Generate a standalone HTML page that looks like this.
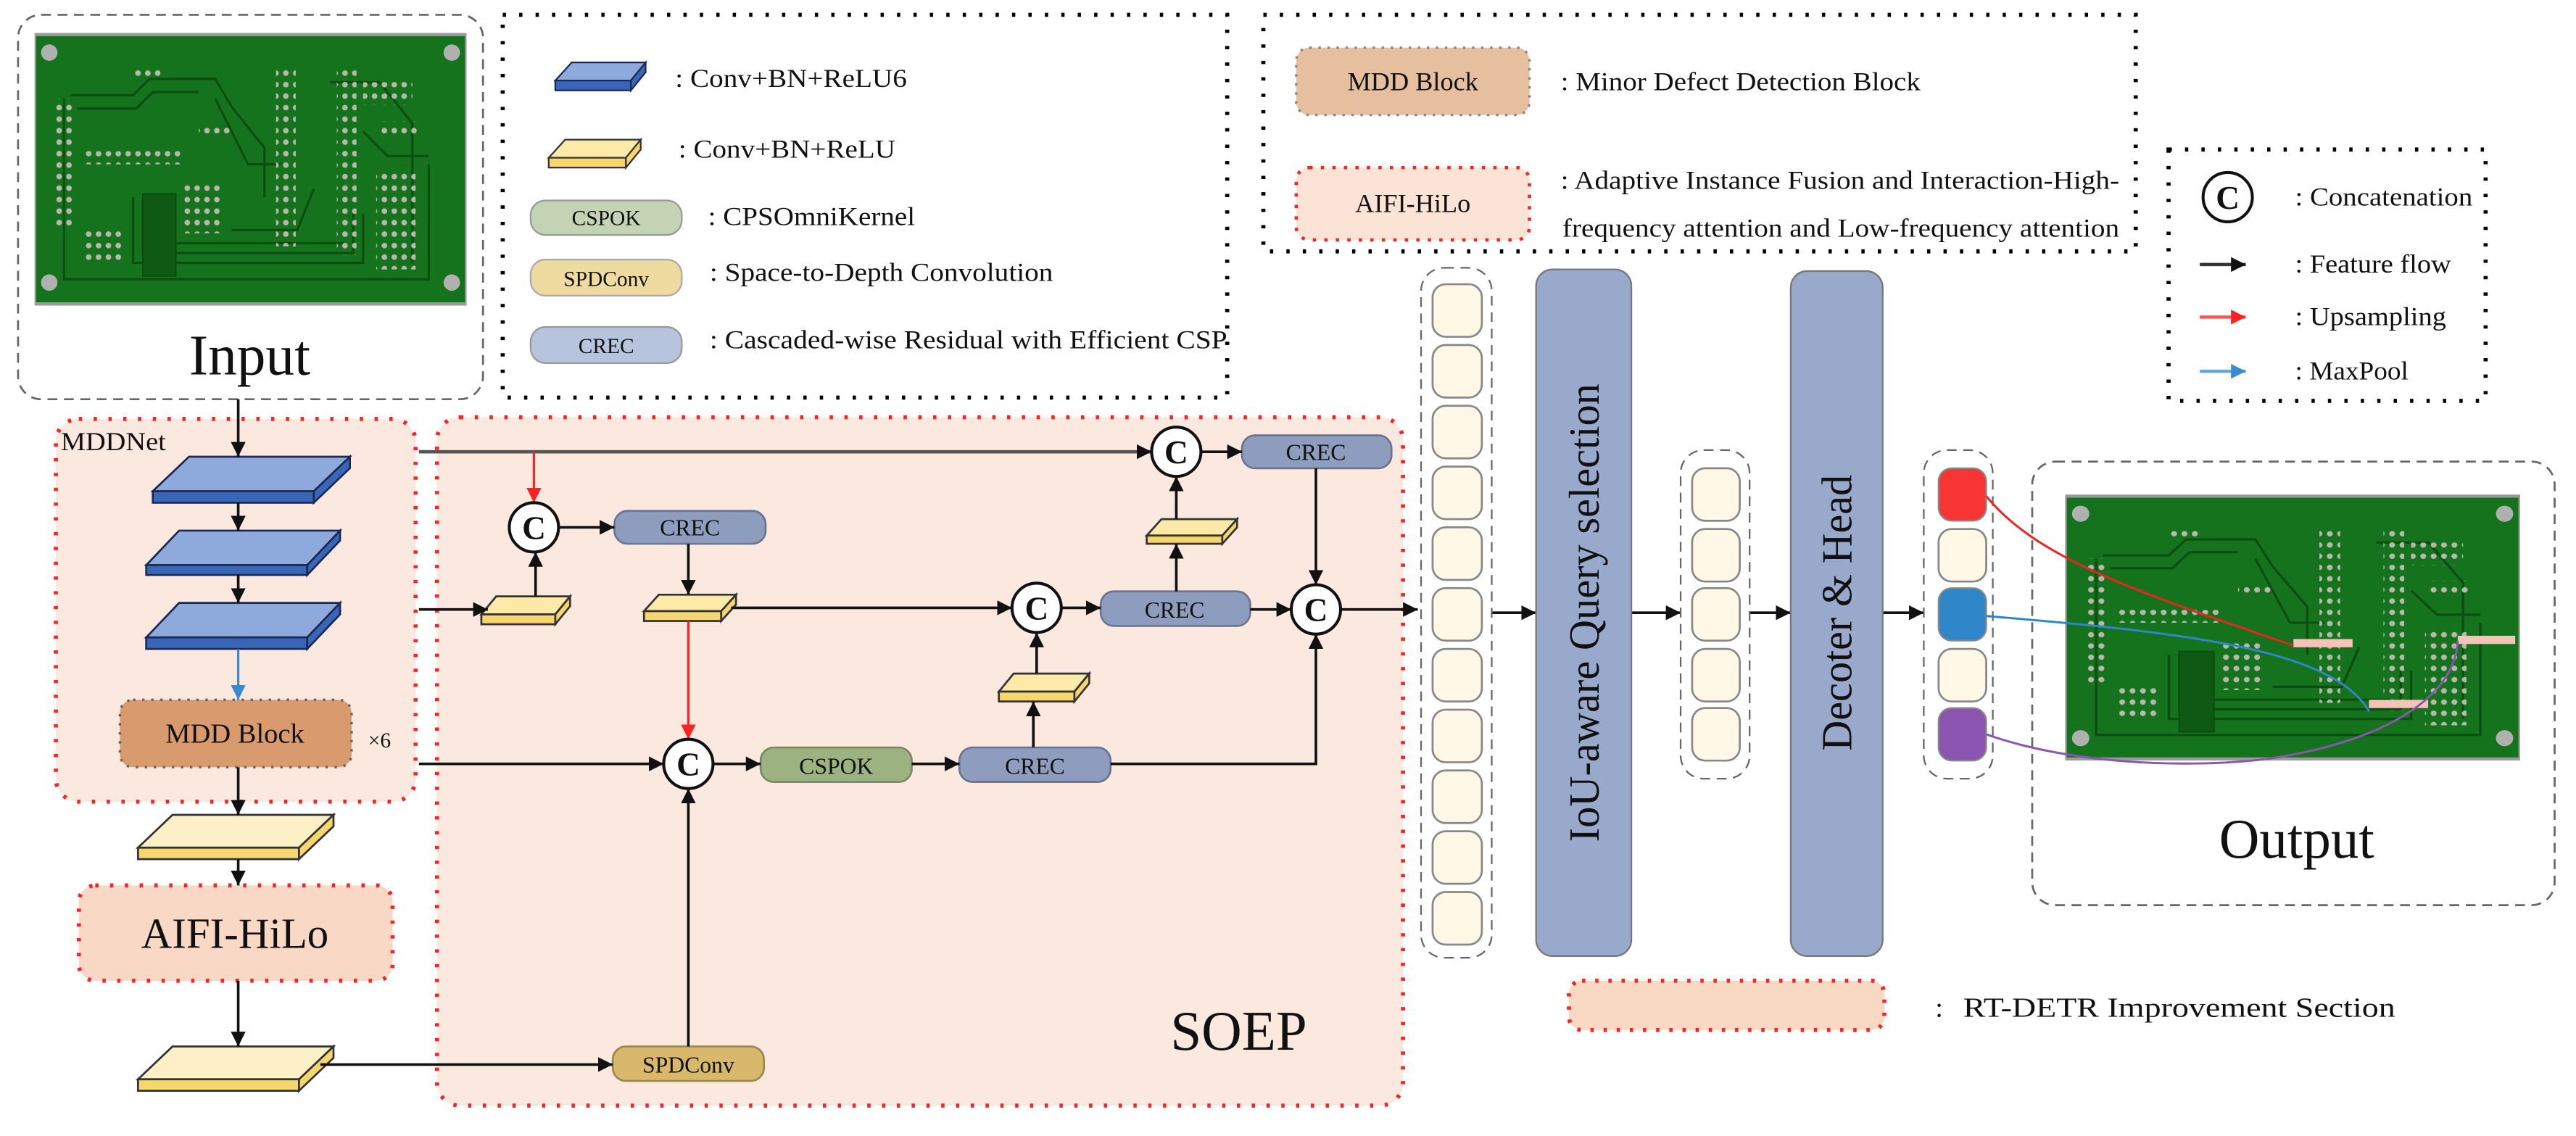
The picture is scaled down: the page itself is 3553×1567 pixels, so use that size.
<!DOCTYPE html>
<html><head><meta charset="utf-8"><style>
html,body{margin:0;padding:0;background:#fff;}
svg{display:block;}
text{font-family:"Liberation Serif",serif;fill:#111;}
</style></head><body>
<svg width="3553" height="1567" viewBox="0 0 1568 691.5" xmlns="http://www.w3.org/2000/svg">
<defs>
<marker id="ab" markerUnits="userSpaceOnUse" markerWidth="10" markerHeight="10" refX="9" refY="5" orient="auto"><path d="M0,0.5 L9,5 L0,9.5 Z" fill="#111"/></marker>
<marker id="ar" markerUnits="userSpaceOnUse" markerWidth="10" markerHeight="10" refX="9" refY="5" orient="auto"><path d="M0,0.5 L9,5 L0,9.5 Z" fill="#f22"/></marker>
<marker id="au" markerUnits="userSpaceOnUse" markerWidth="10" markerHeight="10" refX="9" refY="5" orient="auto"><path d="M0,0.5 L9,5 L0,9.5 Z" fill="#3a8ad0"/></marker>
<pattern id="pads" width="6" height="7" patternUnits="userSpaceOnUse"><circle cx="3" cy="3.5" r="1.7" fill="#b8b8aa"/></pattern>
<symbol id="pcb" viewBox="0 0 263 166" preserveAspectRatio="none">
<rect x="0" y="0" width="263" height="166" fill="#9a9a9a"/>
<rect x="1" y="2" width="261" height="162" fill="#15731d"/>
<g fill="none" stroke="#0a4f10" stroke-width="1.4">
<polyline points="18,40 18,150 240,150 240,80"/>
<polyline points="22,38 60,38 70,28 110,28 120,45 140,70 140,100"/>
<polyline points="26,46 62,46 72,36 100,36"/>
<polyline points="110,40 130,80 150,80"/>
<polyline points="60,100 60,140 200,140 200,110"/>
<polyline points="66,100 66,134 194,134 194,110"/>
<polyline points="72,100 72,128 188,128"/>
<polyline points="180,30 210,30 230,55 230,140"/>
<polyline points="120,120 160,120 170,95"/>
<polyline points="200,60 215,75 240,75"/>
</g>
<rect x="66" y="98" width="20" height="50" fill="#0e5a14" stroke="#0a4f10"/>
<rect x="147" y="20" width="12" height="110" fill="url(#pads)"/>
<rect x="184" y="20" width="12" height="115" fill="url(#pads)"/>
<rect x="200" y="30" width="30" height="14" fill="url(#pads)"/>
<rect x="12" y="40" width="12" height="80" fill="url(#pads)"/>
<rect x="30" y="72" width="60" height="8" fill="url(#pads)"/>
<rect x="90" y="92" width="24" height="30" fill="url(#pads)"/>
<rect x="208" y="84" width="24" height="60" fill="url(#pads)"/>
<rect x="60" y="20" width="18" height="8" fill="url(#pads)"/>
<rect x="100" y="55" width="20" height="8" fill="url(#pads)"/>
<rect x="210" y="54" width="24" height="8" fill="url(#pads)"/>
<rect x="30" y="120" width="24" height="20" fill="url(#pads)"/>
<circle cx="9" cy="12" r="5" fill="#b0b0b0"/><circle cx="254" cy="12" r="5" fill="#b0b0b0"/>
<circle cx="9" cy="152" r="5" fill="#b0b0b0"/><circle cx="254" cy="152" r="5" fill="#b0b0b0"/>
</symbol>
</defs>

<!-- Input -->
<rect x="11" y="9" width="283" height="234" rx="14" fill="none" stroke="#666" stroke-width="1.2" stroke-dasharray="6 4"/>
<use href="#pcb" x="21" y="20" width="263" height="166"/>
<text x="152" y="228" font-size="35" text-anchor="middle">Input</text>

<!-- Legend 1 -->
<rect x="306" y="9" width="441" height="233" fill="none" stroke="#000" stroke-width="2.5" stroke-dasharray="2 8"/>
<g stroke="#1a2a55" stroke-width="1">
<polygon points="348,38 393,38 384,49 338,49" fill="#8eaadc"/>
<rect x="338" y="49" width="46" height="6" fill="#3a66b8"/>
<polygon points="384,49 393,38 393,44 384,55" fill="#3a66b8"/>
</g>
<g stroke="#333" stroke-width="1">
<polygon points="344,85 390,85 381,96 334,96" fill="#fde9a8"/>
<rect x="334" y="96" width="47" height="6" fill="#f5d76e"/>
<polygon points="381,96 390,85 390,91 381,102" fill="#f5d76e"/>
</g>
<rect x="323" y="122" width="92" height="21" rx="9" fill="#c3d3b4" stroke="#999"/>
<text x="369" y="137" font-size="13" text-anchor="middle" fill="#444">CSPOK</text>
<rect x="323" y="158" width="92" height="22" rx="9" fill="#efdb9f" stroke="#aaa"/>
<text x="369" y="174" font-size="13" text-anchor="middle" fill="#444">SPDConv</text>
<rect x="323" y="199" width="92" height="22" rx="9" fill="#b6c4dd" stroke="#999"/>
<text x="369" y="215" font-size="13" text-anchor="middle" fill="#444">CREC</text>
<text x="411" y="53" font-size="16" textLength="141" lengthAdjust="spacingAndGlyphs">: Conv+BN+ReLU6</text>
<text x="413" y="96" font-size="16" textLength="132" lengthAdjust="spacingAndGlyphs">: Conv+BN+ReLU</text>
<text x="431" y="137" font-size="16" textLength="126" lengthAdjust="spacingAndGlyphs">: CPSOmniKernel</text>
<text x="432" y="171" font-size="16" textLength="209" lengthAdjust="spacingAndGlyphs">: Space-to-Depth Convolution</text>
<text x="432" y="212" font-size="16" textLength="315" lengthAdjust="spacingAndGlyphs">: Cascaded-wise Residual with Efficient CSP</text>

<!-- Legend 2 -->
<rect x="769" y="9" width="531" height="144" fill="none" stroke="#000" stroke-width="2.5" stroke-dasharray="2 8"/>
<rect x="789" y="29" width="142" height="41" rx="8" fill="#e6bf9f" stroke="#888" stroke-width="1.5" stroke-dasharray="1.5 4"/>
<text x="860" y="55" font-size="16" text-anchor="middle" fill="#333">MDD Block</text>
<rect x="789" y="102" width="142" height="44" rx="8" fill="#fbe3d5" stroke="#f22" stroke-width="2" stroke-dasharray="2 5"/>
<text x="860" y="129" font-size="16" text-anchor="middle" fill="#333">AIFI-HiLo</text>
<text x="950" y="55" font-size="16" textLength="219" lengthAdjust="spacingAndGlyphs">: Minor Defect Detection Block</text>
<text x="950" y="115" font-size="16" textLength="340" lengthAdjust="spacingAndGlyphs">: Adaptive Instance Fusion and Interaction-High-</text>
<text x="951" y="144" font-size="16" textLength="339" lengthAdjust="spacingAndGlyphs">frequency attention and Low-frequency attention</text>

<!-- Legend 3 -->
<rect x="1320" y="91" width="193" height="153" fill="none" stroke="#000" stroke-width="2.5" stroke-dasharray="2 8"/>
<circle cx="1356" cy="120" r="15" fill="#fff" stroke="#111" stroke-width="1.8"/>
<text x="1356" y="127" font-size="20" text-anchor="middle" font-weight="bold">C</text>
<text x="1397" y="125" font-size="16" textLength="108" lengthAdjust="spacingAndGlyphs">: Concatenation</text>
<line x1="1339" y1="161" x2="1367" y2="161" stroke="#333" stroke-width="2" marker-end="url(#ab)"/>
<line x1="1339" y1="193" x2="1367" y2="193" stroke="#f55" stroke-width="2" marker-end="url(#ar)"/>
<line x1="1339" y1="226" x2="1367" y2="226" stroke="#6aa6dc" stroke-width="2" marker-end="url(#au)"/>
<text x="1397" y="166" font-size="16" textLength="95" lengthAdjust="spacingAndGlyphs">: Feature flow</text>
<text x="1397" y="198" font-size="16" textLength="92" lengthAdjust="spacingAndGlyphs">: Upsampling</text>
<text x="1397" y="231" font-size="16" textLength="69" lengthAdjust="spacingAndGlyphs">: MaxPool</text>

<!-- MDDNet region -->
<rect x="34" y="255" width="219" height="233" rx="14" fill="#fbe8de" stroke="#f22" stroke-width="2.5" stroke-dasharray="2 7"/>
<text x="37" y="274" font-size="16" textLength="64" lengthAdjust="spacingAndGlyphs">MDDNet</text>
<!-- SOEP region -->
<rect x="266" y="254" width="588" height="419" rx="14" fill="#fbe8de" stroke="#f22" stroke-width="2.5" stroke-dasharray="2 7"/>
<text x="754" y="639" font-size="34" text-anchor="middle">SOEP</text>

<!-- blue slabs -->
<g stroke="#1a2a55" stroke-width="1.2">
<polygon points="115,278 213,278 191,299 93,299" fill="#8eaadc"/><rect x="93" y="299" width="98" height="7" fill="#3a66b8"/><polygon points="191,299 213,278 213,285 191,306" fill="#3a66b8"/>
<polygon points="109,323 207,323 187,344 89,344" fill="#8eaadc"/><rect x="89" y="344" width="98" height="6" fill="#3a66b8"/><polygon points="187,344 207,323 207,329 187,350" fill="#3a66b8"/>
<polygon points="109,367 207,367 187,388 89,388" fill="#8eaadc"/><rect x="89" y="388" width="98" height="7" fill="#3a66b8"/><polygon points="187,388 207,367 207,374 187,395" fill="#3a66b8"/>
</g>
<!-- yellow slabs -->
<g stroke="#333" stroke-width="1.2">
<polygon points="105,496 203,496 182,516 84,516" fill="#fdf0c6"/><rect x="84" y="516" width="98" height="7" fill="#f5d76e"/><polygon points="182,516 203,496 203,503 182,523" fill="#f5d76e"/>
<polygon points="105,637 203,637 182,657 84,657" fill="#fdf0c6"/><rect x="84" y="657" width="98" height="7" fill="#f5d76e"/><polygon points="182,657 203,637 203,644 182,664" fill="#f5d76e"/>
<polygon points="302,363 347,363 338,374 293,374" fill="#fde9a8"/><rect x="293" y="374" width="45" height="6" fill="#f5d76e"/><polygon points="338,374 347,363 347,369 338,380" fill="#f5d76e"/>
<polygon points="401,362 448,362 439,372 392,372" fill="#fde9a8"/><rect x="392" y="372" width="47" height="6" fill="#f5d76e"/><polygon points="439,372 448,362 448,368 439,378" fill="#f5d76e"/>
<polygon points="707,316 753,316 744,326 698,326" fill="#fde9a8"/><rect x="698" y="326" width="46" height="5" fill="#f5d76e"/><polygon points="744,326 753,316 753,321 744,331" fill="#f5d76e"/>
<polygon points="617,410 663,410 654,421 608,421" fill="#fde9a8"/><rect x="608" y="421" width="46" height="6" fill="#f5d76e"/><polygon points="654,421 663,410 663,416 654,427" fill="#f5d76e"/>
</g>

<!-- MDD Block & AIFI -->
<rect x="73" y="426" width="141" height="41" rx="8" fill="#d99b6e" stroke="#666" stroke-width="1.5" stroke-dasharray="1.5 4"/>
<text x="143" y="452" font-size="17" text-anchor="middle" fill="#222">MDD Block</text>
<text x="231" y="455" font-size="13" text-anchor="middle">×6</text>
<rect x="48" y="539" width="191" height="58" rx="10" fill="#f9d8c5" stroke="#f22" stroke-width="2.5" stroke-dasharray="2 7"/>
<text x="143" y="577" font-size="26" text-anchor="middle" fill="#222">AIFI-HiLo</text>

<!-- SOEP blocks -->
<g stroke="#6b7590" stroke-width="1.2">
<rect x="756" y="265" width="91" height="20" rx="8" fill="#8e9dbd"/>
<rect x="374" y="311" width="92" height="20" rx="8" fill="#8e9dbd"/>
<rect x="670" y="360" width="91" height="21" rx="8" fill="#8e9dbd"/>
<rect x="584" y="455" width="92" height="21" rx="8" fill="#8e9dbd"/>
</g>
<rect x="463" y="455" width="92" height="21" rx="8" fill="#9cb281" stroke="#7a8a66" stroke-width="1.2"/>
<rect x="373" y="637" width="92" height="21" rx="8" fill="#d8b86a" stroke="#9a8a50" stroke-width="1.2"/>
<g font-size="14" text-anchor="middle" fill="#333">
<text x="801" y="280">CREC</text>
<text x="420" y="326">CREC</text>
<text x="715" y="376">CREC</text>
<text x="630" y="471">CREC</text>
<text x="509" y="471">CSPOK</text>
<text x="419" y="653">SPDConv</text>
</g>

<!-- arrows -->
<g stroke="#111" stroke-width="1.6" fill="none" marker-end="url(#ab)">
<line x1="145" y1="243" x2="145" y2="278"/>
<line x1="145" y1="306" x2="145" y2="323"/>
<line x1="145" y1="350" x2="145" y2="367"/>
<line x1="145" y1="467" x2="145" y2="496"/>
<line x1="145" y1="523" x2="145" y2="539"/>
<line x1="145" y1="597" x2="145" y2="637"/>
<line x1="255" y1="275" x2="701" y2="275" stroke="#555" stroke-width="2"/>
<line x1="255" y1="371" x2="297" y2="371"/>
<line x1="326" y1="363" x2="326" y2="336"/>
<line x1="340" y1="321" x2="374" y2="321"/>
<line x1="419" y1="331" x2="419" y2="362"/>
<line x1="445" y1="370" x2="616" y2="370"/>
<line x1="646" y1="370" x2="670" y2="370"/>
<line x1="761" y1="371" x2="786" y2="371"/>
<line x1="816" y1="371" x2="863" y2="371"/>
<line x1="716" y1="360" x2="716" y2="331"/>
<line x1="716" y1="316" x2="716" y2="290"/>
<line x1="731" y1="275" x2="756" y2="275"/>
<line x1="801" y1="285" x2="801" y2="356"/>
<line x1="255" y1="465" x2="404" y2="465"/>
<line x1="434" y1="465" x2="463" y2="465"/>
<line x1="555" y1="465" x2="584" y2="465"/>
<line x1="629" y1="455" x2="629" y2="427"/>
<line x1="631" y1="410" x2="631" y2="385"/>
<polyline points="676,465 801,465 801,386"/>
<line x1="195" y1="648" x2="373" y2="648"/>
<line x1="419" y1="637" x2="419" y2="480"/>
<line x1="908" y1="373" x2="935" y2="373"/>
<line x1="993" y1="373" x2="1023" y2="373"/>
<line x1="1065" y1="373" x2="1090" y2="373"/>
<line x1="1146" y1="373" x2="1171" y2="373"/>
</g>
<line x1="325" y1="275" x2="325" y2="306" stroke="#f22" stroke-width="1.4" marker-end="url(#ar)"/>
<line x1="419" y1="378" x2="419" y2="450" stroke="#f22" stroke-width="1.4" marker-end="url(#ar)"/>
<line x1="145" y1="395" x2="145" y2="426" stroke="#3a8ad0" stroke-width="1.4" marker-end="url(#au)"/>

<!-- concat circles -->
<g fill="#fff" stroke="#111" stroke-width="1.8">
<circle cx="716" cy="275" r="15"/><circle cx="325" cy="321" r="15"/><circle cx="631" cy="370" r="15"/><circle cx="419" cy="465" r="15"/><circle cx="801" cy="371" r="15"/>
</g>
<g font-size="20" font-weight="bold" text-anchor="middle">
<text x="716" y="282">C</text><text x="325" y="328">C</text><text x="631" y="377">C</text><text x="419" y="472">C</text><text x="801" y="378">C</text>
</g>

<!-- query columns -->
<rect x="865" y="163" width="43" height="420" rx="14" fill="none" stroke="#666" stroke-dasharray="6 4"/>
<g fill="#fff8e6" stroke="#888" stroke-width="1.2">
<rect x="872" y="173" width="30" height="32" rx="8"/><rect x="872" y="210" width="30" height="32" rx="8"/><rect x="872" y="247" width="30" height="32" rx="8"/><rect x="872" y="284" width="30" height="32" rx="8"/><rect x="872" y="321" width="30" height="32" rx="8"/><rect x="872" y="358" width="30" height="32" rx="8"/><rect x="872" y="395" width="30" height="32" rx="8"/><rect x="872" y="432" width="30" height="32" rx="8"/><rect x="872" y="469" width="30" height="32" rx="8"/><rect x="872" y="506" width="30" height="32" rx="8"/><rect x="872" y="543" width="30" height="32" rx="8"/>
<rect x="1030" y="285" width="29" height="32" rx="8"/><rect x="1030" y="322" width="29" height="32" rx="8"/><rect x="1030" y="358" width="29" height="32" rx="8"/><rect x="1030" y="395" width="29" height="32" rx="8"/><rect x="1030" y="431" width="29" height="32" rx="8"/>
<rect x="1180" y="322" width="29" height="32" rx="8"/><rect x="1180" y="395" width="29" height="32" rx="8"/>
</g>
<rect x="1023" y="274" width="42" height="200" rx="14" fill="none" stroke="#666" stroke-dasharray="6 4"/>
<rect x="1171" y="274" width="42" height="200" rx="14" fill="none" stroke="#666" stroke-dasharray="6 4"/>
<rect x="1180" y="285" width="29" height="32" rx="8" fill="#f83535" stroke="#888"/>
<rect x="1180" y="358" width="29" height="32" rx="8" fill="#2f86c8" stroke="#888"/>
<rect x="1180" y="431" width="29" height="32" rx="8" fill="#8a55b0" stroke="#888"/>

<rect x="935" y="164" width="58" height="418" rx="10" fill="#98a9cb" stroke="#777"/>
<rect x="1090" y="165" width="56" height="417" rx="10" fill="#98a9cb" stroke="#777"/>
<text transform="translate(973,373) rotate(-90)" font-size="26" text-anchor="middle" textLength="279" lengthAdjust="spacingAndGlyphs">IoU-aware Query selection</text>
<text transform="translate(1127,373) rotate(-90)" font-size="26" text-anchor="middle" textLength="168" lengthAdjust="spacingAndGlyphs">Decoter &amp; Head</text>

<!-- Output -->
<rect x="1237" y="281" width="318" height="270" rx="14" fill="none" stroke="#666" stroke-width="1.2" stroke-dasharray="6 4"/>
<use href="#pcb" x="1257" y="301" width="277" height="162"/>
<text x="1398" y="522" font-size="34" text-anchor="middle">Output</text>
<g fill="#f6c3b8"><rect x="1396" y="389" width="36" height="5"/><rect x="1442" y="426" width="36" height="5"/><rect x="1496" y="387" width="35" height="5"/></g>
<path d="M1209,302 C1240,340 1300,360 1396,393" fill="none" stroke="#e22" stroke-width="1.3"/>
<path d="M1209,375 C1330,385 1420,395 1442,433" fill="none" stroke="#2f86c8" stroke-width="1.3"/>
<path d="M1209,447 C1260,465 1330,468 1380,462 C1460,450 1495,420 1496,390" fill="none" stroke="#8a55b0" stroke-width="1.3"/>

<!-- RT-DETR legend -->
<rect x="955" y="597" width="192" height="30" rx="8" fill="#f9d9c1" stroke="#f22" stroke-width="2.5" stroke-dasharray="2 6"/>
<text x="1178" y="619" font-size="17">:</text>
<text x="1195" y="619" font-size="17" textLength="263" lengthAdjust="spacingAndGlyphs">RT-DETR Improvement Section</text>
</svg>
</body></html>
